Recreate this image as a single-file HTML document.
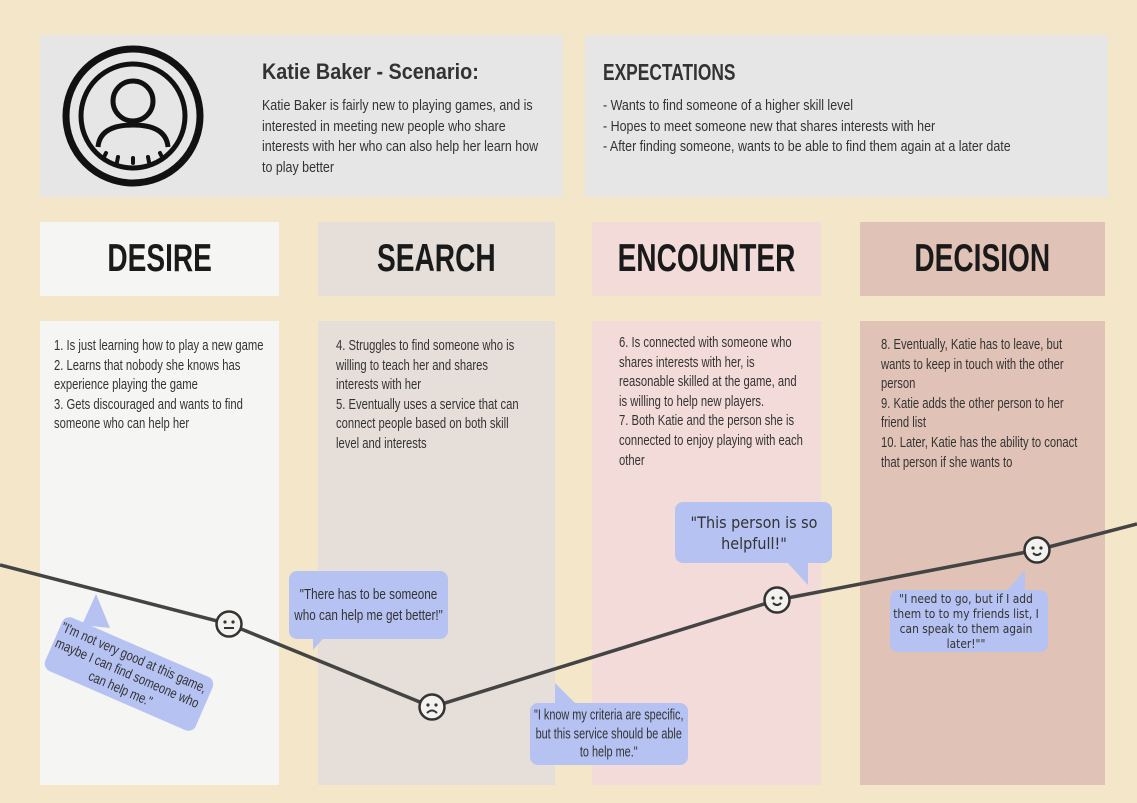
<!DOCTYPE html>
<html><head><meta charset="utf-8"><style>
*{margin:0;padding:0;box-sizing:border-box}
body{width:1137px;height:803px;background:#f4e6c8;position:relative;overflow:hidden;font-family:"Liberation Sans",sans-serif;color:#333}
.abs{position:absolute}
.box{background:#e6e6e6}
.sq{transform-origin:left top}
.hdr{display:flex;align-items:center;justify-content:center;font-weight:bold;font-size:39px;color:#1a1a1a}
.hdr span{display:inline-block;transform:scaleX(0.72)}
.col{overflow:hidden}
.col .sq{position:absolute;font-size:15px;line-height:19.6px;color:#333;transform:scaleX(0.75)}
.bub{background:#b5c2f2;border-radius:8px;overflow:hidden}
.bub .in{position:absolute;left:0;top:50%;text-align:center;color:#333;transform-origin:left center}
</style></head><body>
<div class="abs box" style="left:40px;top:35px;width:523px;height:162px">
<svg class="abs" style="left:20px;top:10px" width="150" height="145">
<circle cx="73" cy="71" r="67" fill="none" stroke="#111" stroke-width="7"/>
<circle cx="73" cy="71" r="52" fill="none" stroke="#111" stroke-width="5"/>
<circle cx="73" cy="56" r="20" fill="none" stroke="#111" stroke-width="5"/>
<path d="M38 102 Q40 80 73 80 Q106 80 108 102" fill="none" stroke="#111" stroke-width="5"/>
<g stroke="#111" stroke-width="4" stroke-linecap="round"><line x1="46" y1="108" x2="44" y2="112"/><line x1="58" y1="112" x2="57" y2="117"/><line x1="73" y1="113" x2="73" y2="118"/><line x1="88" y1="112" x2="89" y2="117"/><line x1="100" y1="108" x2="102" y2="112"/></g>
</svg>
<div class="abs sq" style="left:222px;top:24px;font-weight:bold;font-size:22px;color:#333;transform:scaleX(0.9);white-space:nowrap">Katie Baker - Scenario:</div>
<div class="abs sq" style="left:222px;top:61px;width:337px;font-size:15px;line-height:20.5px;transform:scaleX(0.83)">Katie Baker is fairly new to playing games, and is interested in meeting new people who share interests with her who can also help her learn how to play better</div>
</div>
<div class="abs box" style="left:585px;top:35px;width:523px;height:162px">
<div class="abs sq" style="left:18px;top:24px;font-weight:bold;font-size:23px;color:#333;transform:scaleX(0.755);white-space:nowrap">EXPECTATIONS</div>
<div class="abs sq" style="left:18px;top:61px;font-size:15px;line-height:20.5px;transform:scaleX(0.83);white-space:nowrap">- Wants to find someone of a higher skill level<br>- Hopes to meet someone new that shares interests with her<br>- After finding someone, wants to be able to find them again at a later date</div>
</div>

<div class="abs hdr" style="left:40px;top:222px;width:239px;height:74px;background:#f5f5f4"><span>DESIRE</span></div>
<div class="abs hdr" style="left:318px;top:222px;width:237px;height:74px;background:#e6dfd9"><span>SEARCH</span></div>
<div class="abs hdr" style="left:592px;top:222px;width:229px;height:74px;background:#f2dbd8"><span>ENCOUNTER</span></div>
<div class="abs hdr" style="left:860px;top:222px;width:245px;height:74px;background:#e0c3b6"><span>DECISION</span></div>

<div class="abs col" style="left:40px;top:321px;width:239px;height:464px;background:#f5f5f4"><div class="sq" style="left:14px;top:15px;width:285px">1. Is just learning how to play a new game<br>2. Learns that nobody she knows  has experience playing the game<br>3. Gets discouraged and wants to find someone who can help her</div></div>
<div class="abs col" style="left:318px;top:321px;width:237px;height:464px;background:#e6dfd9"><div class="sq" style="left:18px;top:15px;width:258px">4. Struggles to find someone who is willing to teach her  and shares interests with her<br>5. Eventually uses a service that can connect people based on both skill level and interests</div></div>
<div class="abs col" style="left:592px;top:321px;width:229px;height:464px;background:#f2dbd8"><div class="sq" style="left:27px;top:12px;width:248px">6. Is connected with someone who shares interests with her, is reasonable skilled at the game, and is willing to help new players.<br>7. Both Katie and the person she is connected to enjoy playing with each other</div></div>
<div class="abs col" style="left:860px;top:321px;width:245px;height:464px;background:#e0c3b6"><div class="sq" style="left:21px;top:14px;width:280px">8. Eventually, Katie has to leave, but wants to keep in touch with the other person<br>9. Katie adds the other person to her friend list<br>10. Later, Katie has the ability to conact that person if she wants to</div></div>

<svg class="abs" style="left:0;top:0" width="1137" height="803">
<g fill="#b5c2f2">
<polygon points="96,594 82,625 110,628"/>
<polygon points="313,650 313,625 335,625"/>
<polygon points="555,683 555,710 580,708"/>
<polygon points="808,585 808,560 785,560"/>
<polygon points="1025,570 1003,595 1025,595"/>
</g>
</svg>
<div class="abs bub" style="left:47px;top:645px;width:164px;height:58px;transform:rotate(23.5deg)"><div class="in" style="width:200px;font-size:14px;line-height:17px;transform:translateY(-50%) scaleX(0.8)">"I'm not very good at this game, maybe I can find someone who can help me."</div></div>
<div class="abs bub" style="left:289px;top:571px;width:159px;height:68px"><div class="in" style="width:204px;font-size:15px;line-height:21px;transform:translateY(-50%) scaleX(0.78)">"There has to be someone who can help me get better!"</div></div>
<div class="abs bub" style="left:530px;top:703px;width:158px;height:62px"><div class="in" style="width:210px;font-size:14.5px;line-height:18.5px;transform:translateY(-50%) scaleX(0.75)">"I know my criteria are specific, but this service should be able to help me."</div></div>
<div class="abs bub" style="left:675px;top:502px;width:157px;height:61px"><div class="in" style="width:170px;left:-6px;font-size:16px;line-height:21px;font-family:'DejaVu Sans Condensed','DejaVu Sans',sans-serif;transform:translateY(-50%)">"This person is so helpfull!"</div></div>
<div class="abs bub" style="left:890px;top:590px;width:158px;height:62px"><div class="in" style="width:160px;font-size:12.5px;line-height:15px;font-family:'DejaVu Sans Condensed','DejaVu Sans',sans-serif;transform:translateY(-50%) scaleX(0.95)">"I need to go, but if I add them to to my friends list, I can speak to them again later!""</div></div>

<svg id="journey" class="abs" style="left:0;top:0" width="1137" height="803"></svg>
<script>
const stages = ["start","desire","search","encounter","decision","end"];
const timeSteps = [0, 2.29, 4.32, 7.77, 10.37, 11.37];
const emotionScores = [1.55, 0.96, 0.13, 1.20, 1.70, 1.96];
const faceTypes = ["none","neutral","sad","happy","happy","none"];
const xScale = t => t * 100;
const yScale = v => 720 - v * 100;
const ns = "http://www.w3.org/2000/svg";
const svg = document.getElementById("journey");
const line = document.createElementNS(ns, "polyline");


line.setAttribute("points", timeSteps.map((t,i)=>xScale(t)+","+yScale(emotionScores[i])).join(" "));
line.setAttribute("fill","none");line.setAttribute("stroke","#444");line.setAttribute("stroke-width","3.5");
svg.appendChild(line);
faceTypes.forEach((f,i)=>{
  if(f==="none")return;
  const cx=xScale(timeSteps[i]), cy=yScale(emotionScores[i]);
  const g=document.createElementNS(ns,"g");
  
  
  let mouth;
  if(f==="neutral") mouth=`<line x1="${cx-5}" y1="${cy+4}" x2="${cx+5}" y2="${cy+4}" stroke="#333" stroke-width="2"/>`;
  else if(f==="sad") mouth=`<path d="M${cx-5} ${cy+6} Q${cx} ${cy+1} ${cx+5} ${cy+6}" fill="none" stroke="#333" stroke-width="2"/>`;
  else mouth=`<path d="M${cx-4} ${cy+3} Q${cx} ${cy+7} ${cx+4} ${cy+3}" fill="none" stroke="#333" stroke-width="2"/>`;
  g.innerHTML=`<circle cx="${cx}" cy="${cy}" r="12.5" fill="#f4f2ee" stroke="#333" stroke-width="2.5"/><circle cx="${cx-4}" cy="${cy-2}" r="1.6" fill="#333"/><circle cx="${cx+4}" cy="${cy-2}" r="1.6" fill="#333"/>`+mouth;
  svg.appendChild(g);
});
</script>
</body></html>
